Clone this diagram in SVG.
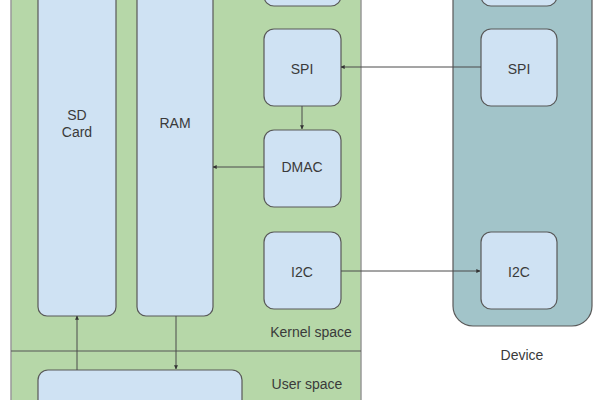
<svg xmlns="http://www.w3.org/2000/svg" width="600" height="400" viewBox="0 0 600 400">
<defs>
<style>
.panel{fill:#b6d7a8;stroke:#999;stroke-width:1.5}
.dev{fill:#a2c4c9;stroke:#595959;stroke-width:1.2}
.box{fill:#cfe2f3;stroke:#595959;stroke-width:1.2}
.t{font-family:"Liberation Sans",Arial,sans-serif;font-size:14px;fill:#3a3a3a;text-anchor:middle}
.c{stroke:#4a4a4a;stroke-width:1;fill:none;marker-end:url(#ah)}
</style>
<marker id="ah" viewBox="0 0 6 6" refX="5.5" refY="3" markerWidth="4" markerHeight="4" orient="auto" markerUnits="userSpaceOnUse">
<path d="M0,0 L6,3 L0,6 z" fill="#333"/>
</marker>
</defs>
<rect width="600" height="400" fill="#fff"/>
<g id="kernel-panel">
<rect class="panel" x="11" y="-20" width="350" height="440"/>
<line x1="11" y1="351" x2="361" y2="351" stroke="#555" stroke-width="1"/>
<text class="t" x="311" y="337">Kernel space</text>
<text class="t" x="307" y="389">User space</text>
</g>
<g id="device-panel">
<rect class="dev" x="453" y="-60" width="139" height="386" rx="20"/>
<text class="t" x="522" y="360">Device</text>
</g>
<g id="sdcard"><rect class="box" x="38" y="-40" width="78" height="356" rx="9"/><text class="t" x="77" y="120">SD</text><text class="t" x="77" y="137">Card</text></g>
<g id="ram"><rect class="box" x="137" y="-40" width="76" height="356" rx="9"/><text class="t" x="175" y="128">RAM</text></g>
<g id="kernel-top"><rect class="box" x="264" y="-60" width="77" height="66" rx="10"/></g>
<g id="kernel-spi"><rect class="box" x="264" y="29" width="77" height="77" rx="10"/><text class="t" x="302" y="74">SPI</text></g>
<g id="dmac"><rect class="box" x="264" y="130" width="77" height="77" rx="10"/><text class="t" x="302" y="172">DMAC</text></g>
<g id="kernel-i2c"><rect class="box" x="264" y="232" width="77" height="77" rx="10"/><text class="t" x="302" y="277">I2C</text></g>
<g id="user-app"><rect class="box" x="38" y="370" width="204" height="80" rx="10"/></g>
<g id="device-top"><rect class="box" x="481" y="-60" width="76" height="66" rx="10"/></g>
<g id="device-spi"><rect class="box" x="481" y="29" width="76" height="77" rx="10"/><text class="t" x="519" y="74">SPI</text></g>
<g id="device-i2c"><rect class="box" x="481" y="232" width="76" height="77" rx="10"/><text class="t" x="519" y="277">I2C</text></g>
<g id="connectors">
<path class="c" d="M481,67 H341"/>
<path class="c" d="M302,106 V129"/>
<path class="c" d="M264,167 H213"/>
<path class="c" d="M341,271 H480"/>
<path class="c" d="M77,370 V316"/>
<path class="c" d="M176,316 V369"/>
</g>
</svg>
